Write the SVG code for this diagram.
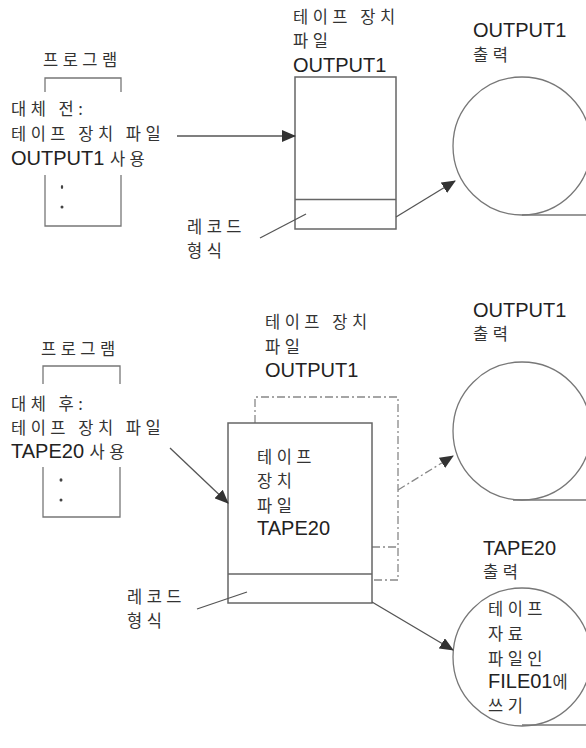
<svg xmlns="http://www.w3.org/2000/svg" width="586" height="748" viewBox="0 0 586 748">
<style>
text{font-family:"Liberation Sans","Noto Sans CJK KR",sans-serif;fill:#222;font-size:20px}
.k{font-family:"Noto Sans CJK KR","Liberation Sans",sans-serif;font-size:16.5px;letter-spacing:4.5px;fill:#333}
.ln{fill:none;stroke:#666;stroke-width:1.5}
.thin{fill:none;stroke:#777;stroke-width:1.3}
.dd{fill:none;stroke:#888;stroke-width:1.3;stroke-dasharray:8 3 2 3}
.arr{fill:none;stroke:#555;stroke-width:1.3}
</style>
<defs>
<marker id="ah" markerWidth="14" markerHeight="12" refX="13" refY="6" orient="auto" markerUnits="userSpaceOnUse">
<path d="M0,0 L14,6 L0,12 Z" fill="#333"/>
</marker>
</defs>
<rect width="586" height="748" fill="#fff"/>

<!-- Top section -->
<g id="prog1">
<text class="k" x="43" y="66">프로그램</text>
<path class="thin" d="M45,92 V78 H121 V92"/>
<path class="thin" d="M45,175 V226 H121 V175"/>
<ellipse cx="62" cy="187" rx="1.2" ry="2" fill="#444"/>
<ellipse cx="62" cy="207" rx="1.5" ry="1.5" fill="#444"/>
<text x="11" y="115" class="k">대체 전:</text>
<text x="11" y="140" class="k">테이프 장치 파일</text>
<text x="11" y="165">OUTPUT1 <tspan class="k">사용</tspan></text>
</g>
<g id="file1">
<text class="k" x="293" y="23">테이프 장치</text>
<text class="k" x="293" y="47">파일</text>
<text x="293" y="72">OUTPUT1</text>
<rect class="ln" x="295" y="77" width="101" height="152"/>
<line class="ln" x1="295" y1="199.5" x2="396" y2="199.5"/>
</g>
<g id="rec1">
<text class="k" x="187" y="233">레코드</text>
<text class="k" x="187" y="257">형식</text>
</g>
<g id="out1">
<text x="473" y="37">OUTPUT1</text>
<text class="k" x="473" y="61">출력</text>
<circle class="thin" cx="522" cy="146" r="69"/>
<line class="thin" x1="522" y1="215" x2="586" y2="215"/>
</g>

<!-- Bottom section -->
<g id="prog2">
<text class="k" x="41" y="355">프로그램</text>
<path class="thin" d="M43,384 V366 H120 V384"/>
<path class="thin" d="M43,467 V517 H120 V467"/>
<ellipse cx="61" cy="480" rx="1.5" ry="1.8" fill="#444"/>
<ellipse cx="61" cy="500" rx="1.5" ry="1.5" fill="#444"/>
<text x="11" y="410" class="k">대체 후:</text>
<text x="11" y="434" class="k">테이프 장치 파일</text>
<text x="11" y="458">TAPE20 <tspan class="k">사용</tspan></text>
</g>
<g id="file2old">
<text class="k" x="265" y="328">테이프 장치</text>
<text class="k" x="265" y="353">파일</text>
<text x="265" y="377">OUTPUT1</text>
<path class="dd" d="M255,423 V397 H398 V580 H372"/>
<line class="dd" x1="372" y1="547" x2="398" y2="547"/>
</g>
<g id="file2">
<rect class="ln" x="228" y="423" width="144" height="180" fill="#fff"/>
<line class="ln" x1="228" y1="574" x2="372" y2="574"/>
<text class="k" x="257" y="463">테이프</text>
<text class="k" x="257" y="487">장치</text>
<text class="k" x="257" y="512">파일</text>
<text x="257" y="535">TAPE20</text>
</g>
<g id="rec2">
<text class="k" x="127" y="603">레코드</text>
<text class="k" x="127" y="627">형식</text>
</g>
<g id="out2">
<text x="473" y="317">OUTPUT1</text>
<text class="k" x="473" y="340">출력</text>
<circle class="thin" cx="522" cy="431" r="69"/>
<line class="thin" x1="513" y1="500" x2="586" y2="500"/>
</g>
<g id="tape20out">
<text x="483" y="555">TAPE20</text>
<text class="k" x="483" y="578">출력</text>
<circle class="thin" cx="522" cy="657" r="69"/>
<line class="thin" x1="522" y1="725" x2="586" y2="725"/>
<text class="k" x="488" y="615">테이프</text>
<text class="k" x="488" y="640">자료</text>
<text class="k" x="488" y="665">파일인</text>
<text x="488" y="688">FILE01<tspan class="k">에</tspan></text>
<text class="k" x="488" y="712">쓰기</text>
</g>

<g id="connectors">
<line class="arr" x1="177" y1="136" x2="295" y2="136" marker-end="url(#ah)"/>
<line class="arr" x1="260" y1="238" x2="306" y2="214"/>
<line class="arr" x1="396" y1="217" x2="455" y2="181" marker-end="url(#ah)"/>
<line class="arr" x1="170" y1="448" x2="228" y2="503" marker-end="url(#ah)"/>
<line class="dd" x1="398" y1="490" x2="453" y2="456" marker-end="url(#ah)"/>
<line class="arr" x1="372" y1="602" x2="453" y2="650" marker-end="url(#ah)"/>
<line class="arr" x1="197" y1="609" x2="247" y2="592"/>
</g>
</svg>
